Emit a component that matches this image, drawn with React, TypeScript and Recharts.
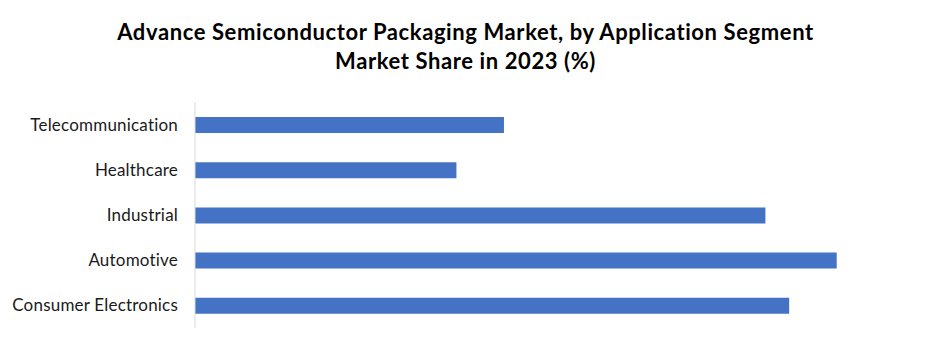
import { Bar, BarChart, XAxis, YAxis } from "recharts";

const segments = [
  "Telecommunication",
  "Healthcare",
  "Industrial",
  "Automotive",
  "Consumer Electronics",
];
const shares = [13, 11, 24, 27, 25];

const titleLines = [
  "Advance Semiconductor Packaging Market, by Application Segment",
  "Market Share in 2023 (%)",
];

export default function App() {
  const data = segments.map((name, i) => ({ name, share: shares[i] }));

  return (
    <div
      style={{
        position: "absolute",
        left: 0,
        top: 0,
        width: 931,
        height: 350,
        background: "#fff",
        fontFamily: "Lato, sans-serif",
      }}
    >
      <div
        style={{
          position: "absolute",
          top: 17,
          left: 0,
          width: 931,
          textAlign: "center",
          fontWeight: 700,
          fontSize: 22,
          letterSpacing: 0.6,
          lineHeight: "29px",
          color: "#000",
        }}
      >
        {titleLines.map((t) => (
          <div key={t}>{t}</div>
        ))}
      </div>
      <BarChart
        width={931}
        height={350}
        data={data}
        layout="vertical"
        margin={{ top: 102, right: 23, bottom: 22, left: 0 }}
      >
        <XAxis type="number" domain={[0, 30]} hide />
        <YAxis
          type="category"
          dataKey="name"
          width={195}
          axisLine={{ stroke: "#d9d9d9" }}
          tickLine={false}
          tickSize={0}
          tickMargin={17}
          tick={{
            fill: "#1a1a1a",
            fontSize: 17,
            letterSpacing: 0.2,
            fontFamily: "Lato, sans-serif",
          }}
        />
        <Bar dataKey="share" fill="#4472C4" barSize={16} isAnimationActive={false} />
      </BarChart>
    </div>
  );
}
